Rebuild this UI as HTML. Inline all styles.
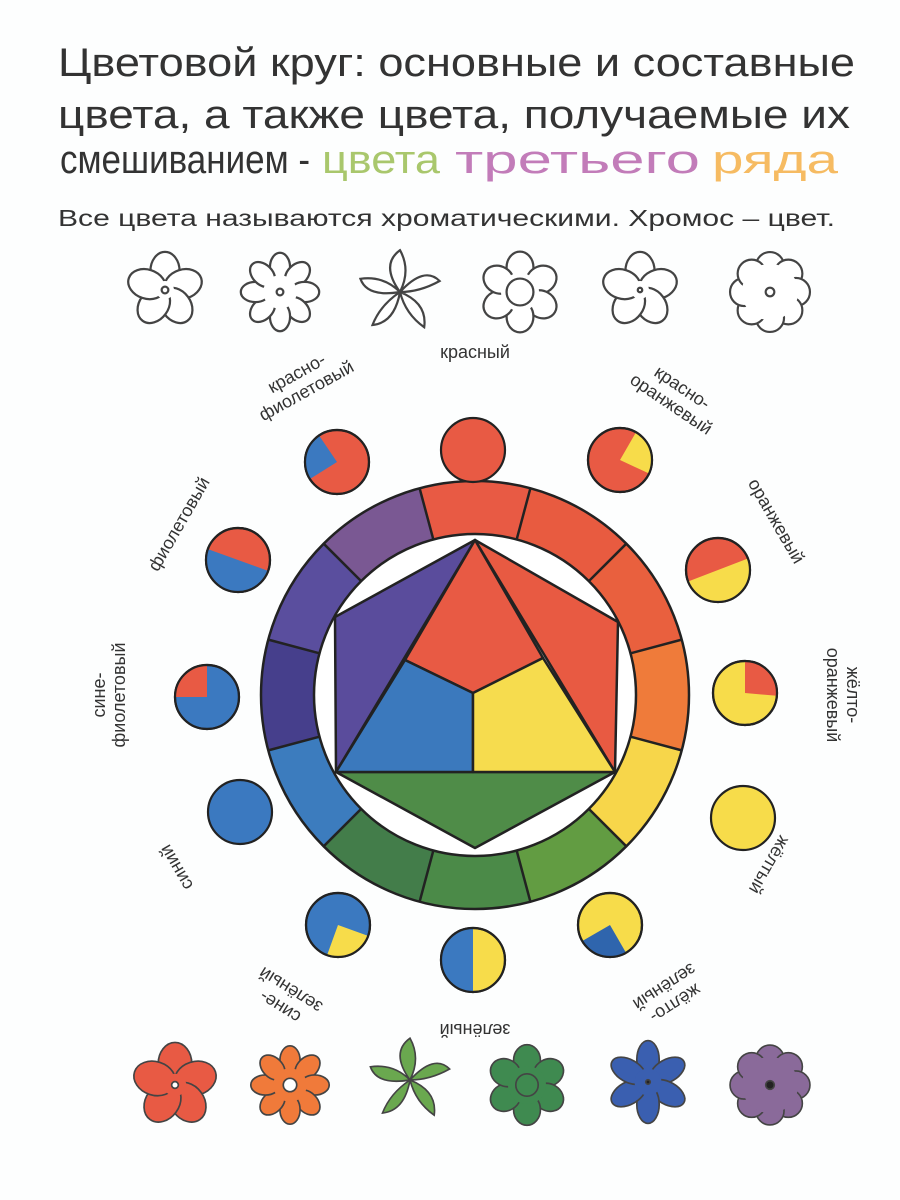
<!DOCTYPE html>
<html><head><meta charset="utf-8"><style>html,body{margin:0;padding:0;background:#fff}svg{display:block}</style></head>
<body>
<svg width="900" height="1200" viewBox="0 0 900 1200" xmlns="http://www.w3.org/2000/svg" font-family="'Liberation Sans', sans-serif">
<rect width="900" height="1200" fill="#fdfefe"/>
<g fill="#333" font-size="40">
<text x="58" y="76" textLength="797" lengthAdjust="spacingAndGlyphs">Цветовой круг: основные и составные</text>
<text x="58" y="128" textLength="792" lengthAdjust="spacingAndGlyphs">цвета, а также цвета, получаемые их</text>
<text x="60" y="173" textLength="250" lengthAdjust="spacingAndGlyphs">смешиванием -</text>
<text x="322" y="173" fill="#a9c76c" textLength="118" lengthAdjust="spacingAndGlyphs">цвета</text>
<text x="455" y="173" fill="#c27cb9" textLength="245" lengthAdjust="spacingAndGlyphs">третьего</text>
<text x="712" y="173" fill="#f6bb62" textLength="126" lengthAdjust="spacingAndGlyphs">ряда</text>
</g>
<text x="58" y="226" font-size="23" fill="#333" textLength="777" lengthAdjust="spacingAndGlyphs">Все цвета называются хроматическими. Хромос – цвет.</text>

<g fill="#fff" stroke="#444" stroke-width="2">
<g transform="translate(165,290) scale(1.12)"><g id="p5"><ellipse cx="0" cy="-17" rx="13" ry="17"/><ellipse cx="0" cy="-17" rx="13" ry="17" transform="rotate(72)"/><ellipse cx="0" cy="-17" rx="13" ry="17" transform="rotate(144)"/><ellipse cx="0" cy="-17" rx="13" ry="17" transform="rotate(216)"/><ellipse cx="0" cy="-17" rx="13" ry="17" transform="rotate(288)"/></g><circle r="8" stroke="none"/><circle r="3"/></g>
<g transform="translate(280,292) scale(1.12)"><g><ellipse cx="0" cy="-22" rx="9" ry="13"/><ellipse cx="0" cy="-22" rx="9" ry="13" transform="rotate(45)"/><ellipse cx="0" cy="-22" rx="9" ry="13" transform="rotate(90)"/><ellipse cx="0" cy="-22" rx="9" ry="13" transform="rotate(135)"/><ellipse cx="0" cy="-22" rx="9" ry="13" transform="rotate(180)"/><ellipse cx="0" cy="-22" rx="9" ry="13" transform="rotate(225)"/><ellipse cx="0" cy="-22" rx="9" ry="13" transform="rotate(270)"/><ellipse cx="0" cy="-22" rx="9" ry="13" transform="rotate(315)"/></g><circle r="15" stroke="none"/><circle r="3"/></g>
<g transform="translate(400,292) scale(1.1)"><path d="M0,0 Q-18,-25 0,-38 Q10,-20 0,0 M0,0 Q22,-24 36,-10 Q18,0 0,0 M0,0 Q25,10 22,32 Q5,20 0,0 M0,0 Q-5,28 -25,30 Q-18,12 0,0 M0,0 Q-30,5 -36,-12 Q-15,-15 0,0"/></g>
<g transform="translate(520,292) scale(1.12)"><g><ellipse cx="0" cy="-22" rx="12" ry="14"/><ellipse cx="0" cy="-22" rx="12" ry="14" transform="rotate(60)"/><ellipse cx="0" cy="-22" rx="12" ry="14" transform="rotate(120)"/><ellipse cx="0" cy="-22" rx="12" ry="14" transform="rotate(180)"/><ellipse cx="0" cy="-22" rx="12" ry="14" transform="rotate(240)"/><ellipse cx="0" cy="-22" rx="12" ry="14" transform="rotate(300)"/></g><circle r="17" stroke="none"/><circle r="12"/></g>
<g transform="translate(640,290) scale(1.12)"><use href="#p5"/><circle r="8" stroke="none"/><circle r="2"/></g>
<g transform="translate(770,292) scale(1.08)"><g><ellipse cx="0" cy="-24" rx="13" ry="13"/><ellipse cx="0" cy="-24" rx="13" ry="13" transform="rotate(45)"/><ellipse cx="0" cy="-24" rx="13" ry="13" transform="rotate(90)"/><ellipse cx="0" cy="-24" rx="13" ry="13" transform="rotate(135)"/><ellipse cx="0" cy="-24" rx="13" ry="13" transform="rotate(180)"/><ellipse cx="0" cy="-24" rx="13" ry="13" transform="rotate(225)"/><ellipse cx="0" cy="-24" rx="13" ry="13" transform="rotate(270)"/><ellipse cx="0" cy="-24" rx="13" ry="13" transform="rotate(315)"/></g><circle r="26" stroke="none"/><circle r="4"/></g>
</g>

<g transform="rotate(-105 475 695)" fill="none" stroke-width="53">
<circle cx="475" cy="695" r="187.5" stroke="#e85a44" stroke-dasharray="98.2 1080"/>
<circle cx="475" cy="695" r="187.5" stroke="#e85b40" stroke-dasharray="0 98.2 98.2 990" />
<circle cx="475" cy="695" r="187.5" stroke="#e9603e" stroke-dasharray="0 196.4 98.2 900"/>
<circle cx="475" cy="695" r="187.5" stroke="#ef7b3a" stroke-dasharray="0 294.6 98.2 800"/>
<circle cx="475" cy="695" r="187.5" stroke="#f7d64a" stroke-dasharray="0 392.8 98.2 700"/>
<circle cx="475" cy="695" r="187.5" stroke="#629c42" stroke-dasharray="0 491 98.2 600"/>
<circle cx="475" cy="695" r="187.5" stroke="#4b8a48" stroke-dasharray="0 589.2 98.2 500"/>
<circle cx="475" cy="695" r="187.5" stroke="#437d4a" stroke-dasharray="0 687.4 98.2 400"/>
<circle cx="475" cy="695" r="187.5" stroke="#3c7cbe" stroke-dasharray="0 785.6 98.2 300"/>
<circle cx="475" cy="695" r="187.5" stroke="#463f8c" stroke-dasharray="0 883.8 98.2 200"/>
<circle cx="475" cy="695" r="187.5" stroke="#5a4e9e" stroke-dasharray="0 982 98.2 100"/>
<circle cx="475" cy="695" r="187.5" stroke="#7a5893" stroke-dasharray="0 1080.2 98.2 10"/>
</g>
<g stroke="#222" stroke-width="2.5">
<line x1="475" y1="534" x2="475" y2="481" transform="rotate(15 475 695)"/>
<line x1="475" y1="534" x2="475" y2="481" transform="rotate(45 475 695)"/>
<line x1="475" y1="534" x2="475" y2="481" transform="rotate(75 475 695)"/>
<line x1="475" y1="534" x2="475" y2="481" transform="rotate(105 475 695)"/>
<line x1="475" y1="534" x2="475" y2="481" transform="rotate(135 475 695)"/>
<line x1="475" y1="534" x2="475" y2="481" transform="rotate(165 475 695)"/>
<line x1="475" y1="534" x2="475" y2="481" transform="rotate(195 475 695)"/>
<line x1="475" y1="534" x2="475" y2="481" transform="rotate(225 475 695)"/>
<line x1="475" y1="534" x2="475" y2="481" transform="rotate(255 475 695)"/>
<line x1="475" y1="534" x2="475" y2="481" transform="rotate(285 475 695)"/>
<line x1="475" y1="534" x2="475" y2="481" transform="rotate(315 475 695)"/>
<line x1="475" y1="534" x2="475" y2="481" transform="rotate(345 475 695)"/>
<circle cx="475" cy="695" r="214" fill="none"/>
<circle cx="475" cy="695" r="161" fill="#fff"/>
</g>
<g stroke="#222" stroke-width="2.5" stroke-linejoin="round">
<polygon points="475,540 335,617 336,772" fill="#5a4c9c"/>
<polygon points="475,540 618,622 615,772" fill="#e85a42"/>
<polygon points="336,772 475,848 615,772" fill="#4f8c48"/>
<polygon points="475,540 405,660 473,693 543,658" fill="#e85a44"/>
<polygon points="405,660 336,772 473,772 473,693" fill="#3b79bd"/>
<polygon points="543,658 615,772 473,772 473,693" fill="#f6dc4e"/>
</g>

<g stroke="#222" stroke-width="2.2">
<circle cx="473" cy="450" r="32" fill="#e85a44"/>
<circle cx="620" cy="460" r="32" fill="#e85a44"/>
<circle cx="718" cy="570" r="32" fill="#e85a44"/>
<circle cx="745" cy="693" r="32" fill="#f7dc4a"/>
<circle cx="743" cy="818" r="32" fill="#f7dc4a"/>
<circle cx="610" cy="925" r="32" fill="#f7dc4a"/>
<circle cx="473" cy="960" r="32" fill="#f7dc4a"/>
<circle cx="338" cy="925" r="32" fill="#3b79c0"/>
<circle cx="240" cy="812" r="32" fill="#3b79c0"/>
<circle cx="207" cy="697" r="32" fill="#3b79c0"/>
<circle cx="238" cy="560" r="32" fill="#e85a44"/>
<circle cx="337" cy="462" r="32" fill="#e85a44"/>
</g>
<g stroke="none">
<path d="M620,460 L636,432.3 A32 32 0 0 1 649,473.5 Z" fill="#f7dc4a"/>
<path d="M718,570 L747.9,558.5 A32 32 0 0 1 688.1,581.5 Z" fill="#f7dc4a"/>
<path d="M745,693 L745,661 A32 32 0 0 1 776.9,695.8 Z" fill="#e85a44"/>
<path d="M610,925 L626,952.7 A32 32 0 0 1 582.3,941 Z" fill="#2f65ad"/>
<path d="M473,960 L473,992 A32 32 0 0 1 473,928 Z" fill="#3b79c0"/>
<path d="M338,925 L368.1,935.9 A32 32 0 0 1 327.1,955.1 Z" fill="#f7dc4a"/>
<path d="M207,697 L175,697 A32 32 0 0 1 207,665 Z" fill="#e85a44"/>
<path d="M238,560 L268.1,570.9 A32 32 0 0 1 207.9,549.1 Z" fill="#3b79c0"/>
<path d="M337,462 L309.9,479 A32 32 0 0 1 319.1,435.5 Z" fill="#3b79c0"/>
</g>
<g fill="none" stroke="#222" stroke-width="2.2">
<circle cx="620" cy="460" r="32"/><circle cx="718" cy="570" r="32"/><circle cx="745" cy="693" r="32"/>
<circle cx="610" cy="925" r="32"/><circle cx="473" cy="960" r="32"/><circle cx="338" cy="925" r="32"/>
<circle cx="207" cy="697" r="32"/><circle cx="238" cy="560" r="32"/><circle cx="337" cy="462" r="32"/>
</g>

<g font-size="18" fill="#333" text-anchor="middle">
<text x="475" y="358">красный</text>
<g transform="translate(475,695) rotate(34) translate(0,-355)"><text y="-10">красно-</text><text y="10">оранжевый</text></g>
<g transform="translate(475,695) rotate(60) translate(0,-348)"><text y="6">оранжевый</text></g>
<g transform="translate(475,695) rotate(90) translate(0,-362)"><text y="-10">жёлто-</text><text y="10">оранжевый</text></g>
<g transform="translate(475,695) rotate(120) translate(0,-340)"><text y="6">жёлтый</text></g>
<g transform="translate(475,695) rotate(147) translate(0,-352)"><text y="-10">жёлто-</text><text y="10">зелёный</text></g>
<g transform="translate(475,695) rotate(180) translate(0,-335)"><text y="6">зелёный</text></g>
<g transform="translate(475,695) rotate(212) translate(0,-352)"><text y="-10">сине-</text><text y="10">зелёный</text></g>
<g transform="translate(475,695) rotate(240) translate(0,-345)"><text y="6">синий</text></g>
<g transform="translate(475,695) rotate(270) translate(0,-360)"><text y="-10">сине-</text><text y="10">фиолетовый</text></g>
<g transform="translate(475,695) rotate(300) translate(0,-342)"><text y="6">фиолетовый</text></g>
<g transform="translate(475,695) rotate(331) translate(0,-352)"><text y="-10">красно-</text><text y="10">фиолетовый</text></g>
</g>

<g stroke="#444" stroke-width="1.5">
<g transform="translate(175,1085) scale(1.12)" fill="#e85a44"><g><ellipse cx="0" cy="-19" rx="15" ry="19"/><ellipse cx="0" cy="-19" rx="15" ry="19" transform="rotate(72)"/><ellipse cx="0" cy="-19" rx="15" ry="19" transform="rotate(144)"/><ellipse cx="0" cy="-19" rx="15" ry="19" transform="rotate(216)"/><ellipse cx="0" cy="-19" rx="15" ry="19" transform="rotate(288)"/></g><circle r="10" stroke="none"/><circle r="3" fill="#fff"/></g>
<g transform="translate(290,1085) scale(1.12)" fill="#f07a3a"><g><ellipse cx="0" cy="-22" rx="9" ry="13"/><ellipse cx="0" cy="-22" rx="9" ry="13" transform="rotate(45)"/><ellipse cx="0" cy="-22" rx="9" ry="13" transform="rotate(90)"/><ellipse cx="0" cy="-22" rx="9" ry="13" transform="rotate(135)"/><ellipse cx="0" cy="-22" rx="9" ry="13" transform="rotate(180)"/><ellipse cx="0" cy="-22" rx="9" ry="13" transform="rotate(225)"/><ellipse cx="0" cy="-22" rx="9" ry="13" transform="rotate(270)"/><ellipse cx="0" cy="-22" rx="9" ry="13" transform="rotate(315)"/></g><circle r="15" stroke="none"/><circle r="6" fill="#fff"/></g>
<g transform="translate(410,1080) scale(1.1)" fill="#6aa84f"><path d="M0,0 Q-18,-25 0,-38 Q10,-20 0,0 M0,0 Q22,-24 36,-10 Q18,0 0,0 M0,0 Q25,10 22,32 Q5,20 0,0 M0,0 Q-5,28 -25,30 Q-18,12 0,0 M0,0 Q-30,5 -36,-12 Q-15,-15 0,0"/></g>
<g transform="translate(527,1085) scale(1.12)" fill="#3f8a50"><ellipse cx="0" cy="-22" rx="12" ry="14"/><ellipse cx="0" cy="-22" rx="12" ry="14" transform="rotate(60)"/><ellipse cx="0" cy="-22" rx="12" ry="14" transform="rotate(120)"/><ellipse cx="0" cy="-22" rx="12" ry="14" transform="rotate(180)"/><ellipse cx="0" cy="-22" rx="12" ry="14" transform="rotate(240)"/><ellipse cx="0" cy="-22" rx="12" ry="14" transform="rotate(300)"/><circle r="17" stroke="none"/><circle r="10"/></g>
<g transform="translate(648,1082) scale(1.12)" fill="#3a5fb0"><ellipse cx="0" cy="-20" rx="10" ry="17"/><ellipse cx="0" cy="-20" rx="10" ry="17" transform="rotate(60)"/><ellipse cx="0" cy="-20" rx="10" ry="17" transform="rotate(120)"/><ellipse cx="0" cy="-20" rx="10" ry="17" transform="rotate(180)"/><ellipse cx="0" cy="-20" rx="10" ry="17" transform="rotate(240)"/><ellipse cx="0" cy="-20" rx="10" ry="17" transform="rotate(300)"/><circle r="12" stroke="none"/><circle r="2" fill="#222"/></g>
<g transform="translate(770,1085) scale(1.08)" fill="#8a6a9a"><ellipse cx="0" cy="-24" rx="13" ry="13"/><ellipse cx="0" cy="-24" rx="13" ry="13" transform="rotate(45)"/><ellipse cx="0" cy="-24" rx="13" ry="13" transform="rotate(90)"/><ellipse cx="0" cy="-24" rx="13" ry="13" transform="rotate(135)"/><ellipse cx="0" cy="-24" rx="13" ry="13" transform="rotate(180)"/><ellipse cx="0" cy="-24" rx="13" ry="13" transform="rotate(225)"/><ellipse cx="0" cy="-24" rx="13" ry="13" transform="rotate(270)"/><ellipse cx="0" cy="-24" rx="13" ry="13" transform="rotate(315)"/><circle r="26" stroke="none"/><circle r="4" fill="#222"/></g>
</g>
</svg>
</body></html>
